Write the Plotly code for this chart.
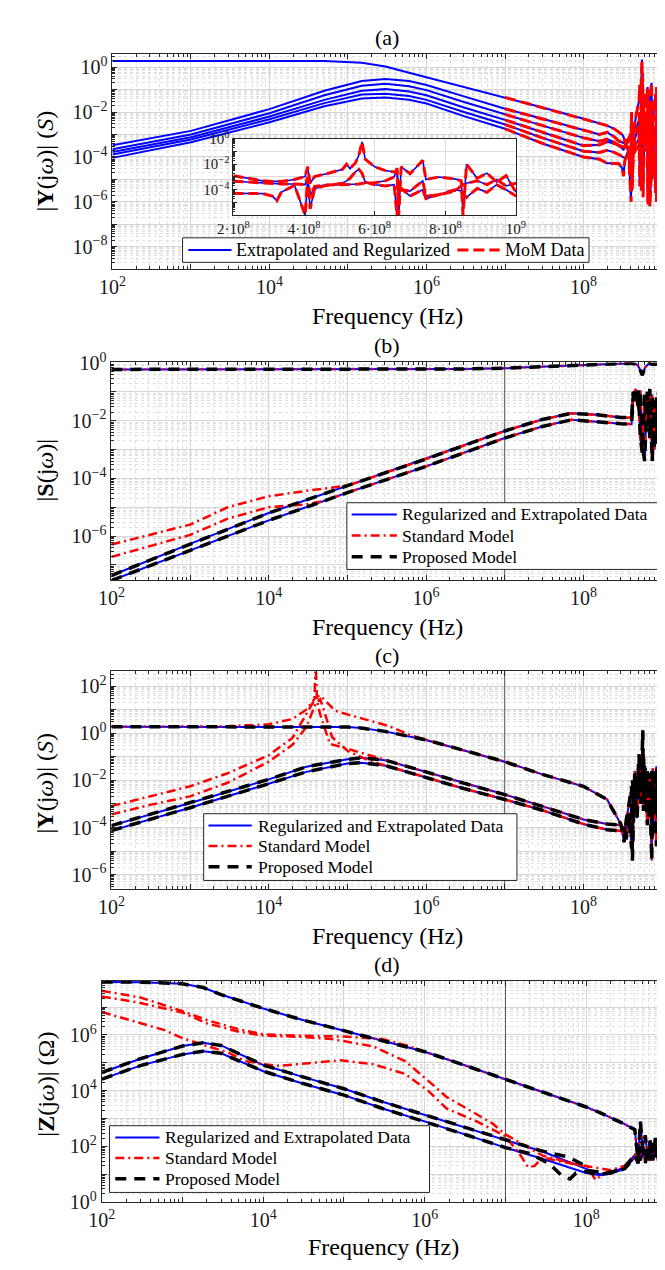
import plotly.graph_objects as go

W, H = 665, 1270
FONT = "Liberation Serif, Times New Roman, serif"
BLUE, RED, BLACK = "#0000FF", "#FF0000", "#000000"
AXC = "#262626"

# ---------------- (a) |Y(jw)| : extrapolated/regularized data and MoM data ----------------
freq_a = [1e2, 1e3, 1e4, 5e4, 1.5e5, 3e5, 6e5, 1e6, 3e6, 1e7, 3e7, 1e8, 1.6e8,
          2.0e8, 2.46e8, 2.83e8, 3.1e8, 3.23e8, 3.35e8, 3.73e8, 4.03e8, 4.1e8, 4.17e8,
          4.3e8, 4.64e8, 5.09e8, 5.2e8, 5.3e8, 5.45e8, 5.55e8, 5.64e8, 5.73e8, 6.0e8,
          6.3e8, 6.55e8, 6.63e8, 6.68e8, 6.75e8, 7.0e8, 7.36e8, 7.45e8, 7.81e8, 8.27e8,
          8.45e8, 8.5e8, 8.6e8, 8.9e8, 9.18e8, 9.45e8, 9.72e8, 1.0e9]
ya_1 = [1.9, 1.9, 1.9, 1.86, 1.58, 1.07, 0.56, 0.35, 0.126, 0.045, 0.016, 5.0e-3, 3.2e-3,
        2.5e-3, 1.8e-3, 1.26e-3, 1.0e-3, 7.9e-4, 5.0e-4, 1.6e-4, 2.5e-5, 3.2e-3, 6.3e-6,
        1.0e-3, 6.3e-3, 3.2e-2, 0.16, 2.5e-2, 0.32, 2.2, 0.1, 3.2e-3, 6.3e-2,
        1.6e-2, 0.13, 3.2e-5, 3.2e-2, 1.6e-3, 5.0e-2, 0.2, 3.2e-4, 1.3e-2, 6.3e-2,
        3.2e-3, 0.13, 1.0e-3, 0.1, 1.0e-2, 4.0e-2, 2.5e-3, 1.6e-2]
ya_2 = [3.3e-4, 1.45e-3, 1.35e-2, 8.9e-2, 0.24, 0.3, 0.24, 0.16, 5.0e-2, 1.4e-2, 5.0e-3, 1.6e-3, 1.0e-3,
        1.26e-3, 7.9e-4, 5.0e-4, 4.5e-4, 4.2e-4, 4.5e-4, 6.3e-4, 1.1e-3, 6.3e-3, 3.2e-4,
        1.1e-3, 1.8e-3, 4.0e-3, 1.0e-2, 4.5e-3, 1.26e-2, 5.0e-2, 0.56, 2.5e-2, 6.3e-3,
        3.2e-3, 2.5e-3, 2.8e-3, 1.0e-6, 6.3e-3, 1.8e-3, 2.0e-2, 6.3e-4, 1.0e-3, 7.1e-4,
        5.0e-4, 1.0e-6, 1.0e-2, 7.9e-4, 2.0e-3, 4.0e-4, 1.26e-3, 6.3e-5]
ya_3 = [2.2e-4, 1.0e-3, 8.9e-3, 5.6e-2, 0.15, 0.18, 0.14, 9.5e-2, 2.8e-2, 7.9e-3, 2.5e-3, 7.1e-4, 5.0e-4,
        6.3e-4, 4.5e-4, 3.2e-4, 2.5e-4, 2.0e-4, 3.2e-4, 5.0e-4, 7.9e-4, 1.0e-2, 1.6e-5,
        4.0e-4, 1.0e-3, 2.5e-3, 5.0e-6, 6.3e-3, 6.3e-2, 1.6e-3, 3.2e-2, 1.6e-6, 2.5e-3,
        5.0e-4, 6.3e-3, 7.9e-7, 1.6e-3, 2.5e-4, 1.26e-3, 1.0e-2, 1.0e-5, 5.0e-4, 2.5e-3,
        1.0e-4, 5.0e-3, 4.0e-5, 1.0e-3, 5.0e-8, 1.6e-3, 2.5e-5, 6.3e-4]
ya_4 = [1.66e-4, 7.6e-4, 6.3e-3, 3.5e-2, 8.9e-2, 0.105, 8.3e-2, 5.6e-2, 1.6e-2, 4.5e-3, 1.26e-3, 3.2e-4, 3.5e-4,
        4.7e-4, 4.0e-4, 3.2e-4, 2.95e-4, 2.8e-4, 2.8e-4, 2.8e-4, 2.5e-4, 1.0e-3, 3.2e-5,
        1.8e-4, 2.4e-4, 2.5e-4, 2.5e-4, 2.6e-4, 2.75e-4, 2.8e-4, 3.2e-4, 3.2e-4, 3.5e-4,
        5.0e-4, 1.0e-3, 5.0e-3, 6.3e-5, 1.0e-4, 7.9e-5, 5.0e-4, 3.2e-5, 4.0e-5, 7.9e-5,
        2.0e-4, 2.5e-4, 3.2e-4, 5.0e-4, 2.5e-4, 6.3e-4, 2.0e-4, 3.2e-4]
ya_5 = [1.3e-4, 6.0e-4, 4.8e-3, 2.5e-2, 6.0e-2, 6.6e-2, 5.2e-2, 3.5e-2, 1.0e-2, 2.8e-3, 7.1e-4, 1.8e-4, 1.6e-4,
        2.0e-4, 1.6e-4, 1.26e-4, 1.1e-4, 1.0e-4, 8.9e-5, 1.26e-4, 2.5e-4, 1.26e-5, 1.0e-3,
        2.0e-4, 4.0e-4, 6.3e-4, 3.2e-3, 2.5e-4, 3.2e-6, 2.5e-3, 1.6e-2, 5.0e-4, 1.6e-3,
        1.0e-2, 2.5e-4, 6.3e-3, 1.0e-5, 1.0e-3, 6.3e-7, 3.2e-5, 4.0e-3, 1.6e-4, 2.5e-6,
        1.26e-3, 2.5e-4, 7.9e-3, 1.0e-6, 5.0e-4, 6.3e-6, 2.0e-3, 1.6e-7]
ya_6 = [9.1e-5, 4.5e-4, 3.5e-3, 1.8e-2, 4.0e-2, 4.5e-2, 3.5e-2, 2.4e-2, 6.6e-3, 1.8e-3, 4.0e-4, 1.0e-4, 7.9e-5,
        5.2e-5, 5.2e-5, 5.0e-5, 3.2e-5, 1.4e-5, 6.3e-5, 2.2e-4, 1.0e-6, 7.9e-4, 3.2e-6,
        1.26e-4, 2.2e-4, 3.2e-4, 5.0e-4, 7.9e-4, 2.5e-3, 4.0e-3, 2.0e-3, 4.0e-4, 2.5e-4,
        2.0e-4, 2.5e-4, 1.0e-6, 2.0e-4, 1.26e-4, 3.2e-5, 1.0e-4, 2.0e-5, 4.0e-5, 1.0e-4,
        7.9e-5, 5.0e-5, 2.5e-5, 1.26e-4, 6.3e-5, 2.5e-4, 1.0e-4, 3.2e-5]
MOM_START = 9      # MoM data available from 1e7 Hz
INSET_START = 13   # inset shows 2e8 .. 1e9 Hz
inset_curves = [ya_2, ya_4, ya_6]

# ---------------- (b) |S(jw)| ----------------
freq_b = [1e2, 1e3, 1e4, 1e5, 1e6, 1e7, 3e7, 7e7, 1.5e8, 3e8, 4.1e8, 4.3e8, 4.6e8, 5.0e8,
          5.3e8, 5.6e8, 6.0e8, 6.5e8, 7.0e8, 7.5e8, 8.0e8, 8.5e8, 9.0e8, 9.5e8, 1e9]
sb_21a = [4.3e-8, 5.4e-7, 6.3e-6, 5.6e-5, 4.7e-4, 4.4e-3, 1.1e-2, 1.8e-2, 1.6e-2, 1.3e-2, 1.26e-2,
          0.1, 5.0e-2, 0.11, 2.5e-3, 7.9e-4, 7.9e-2, 6.3e-3, 0.126, 4.0e-4, 5.0e-2, 1.6e-3, 0.1, 1.0e-2, 5.0e-2]
sb_21b = [2.9e-8, 3.2e-7, 3.5e-6, 3.2e-5, 2.6e-4, 2.5e-3, 6.3e-3, 1.07e-2, 8.9e-3, 7.9e-3, 7.6e-3,
          6.3e-2, 0.126, 2.5e-2, 0.11, 1.6e-3, 4.0e-4, 0.1, 2.5e-3, 7.9e-2, 1.0e-3, 6.3e-2, 4.0e-3, 3.2e-2, 6.3e-3]
freq_b11 = [1e2, 1e5, 1e6, 3e6, 1e7, 3e7, 5e7, 1e8, 2e8, 4e8, 4.8e8, 5.2e8, 5.6e8, 6.1e8, 6.8e8, 8e8, 9e8, 1e9]
sb_11 = [0.6, 0.6, 0.6, 0.62, 0.66, 0.74, 0.79, 0.87, 0.95, 0.98, 0.89, 0.63, 0.38, 0.71, 0.95, 0.89, 0.95, 0.93]
fb_std_lo_a = [1e2, 3e2, 1e3, 3e3, 1e4, 3e4]
sb_std_lo_a = [5.1e-7, 1.1e-6, 2.5e-6, 1.0e-5, 2.4e-5, 3.7e-5]
fb_std_lo_b = [1e2, 3e2, 1e3, 3e3, 1e4, 3e4, 5e4]
sb_std_lo_b = [1.9e-7, 4.5e-7, 1.1e-6, 4.0e-6, 1.0e-5, 1.26e-5, 1.66e-5]
B_JOIN = 3  # standard model joins data from 1e5 Hz

# ---------------- (c) |Y(jw)| models ----------------
freq_c = [1e2, 1e3, 1e4, 3e4, 1e5, 1.5e5, 3e5, 1e6, 3e6, 1e7, 3e7, 1e8, 2e8, 2.6e8, 3e8,
          3.3e8, 3.5e8, 3.8e8, 4.1e8, 4.2e8, 4.5e8, 4.8e8, 5.1e8, 5.4e8, 5.7e8, 5.8e8,
          6.1e8, 6.5e8, 6.8e8, 7.1e8, 7.4e8, 7.6e8, 8.0e8, 8.5e8, 8.9e8, 9.4e8, 1e9]
yc_11 = [1.9, 1.9, 1.9, 1.9, 1.82, 1.66, 1.2, 0.52, 0.19, 6.2e-2, 1.8e-2, 5.6e-3, 1.55e-3, 3.2e-4, 1.4e-4,
         2.4e-5, 2.0e-4, 1.0e-3, 5.6e-3, 4.0e-6, 2.5e-2, 2.5e-3, 0.126, 4.0e-3, 1.32, 5.0e-4,
         4.0e-2, 6.3e-3, 2.0e-2, 6.3e-4, 4.0e-6, 3.2e-2, 5.0e-3, 4.0e-2, 6.3e-5, 1.0e-2, 3.2e-4]
yc_21a = [1.2e-4, 1.1e-3, 1.1e-2, 3.8e-2, 7.8e-2, 9.1e-2, 7.2e-2, 2.3e-2, 7.6e-3, 2.5e-3, 8.1e-4, 2.2e-4, 1.4e-4, 1.26e-4, 1.26e-4,
          1.0e-4, 5.0e-5, 4.0e-4, 1.26e-5, 1.0e-2, 6.3e-4, 1.6e-2, 1.6e-3, 6.3e-2, 1.0e-2, 0.126,
          1.0e-3, 2.5e-2, 2.5e-4, 1.26e-2, 2.5e-3, 4.0e-5, 1.6e-2, 5.0e-4, 6.3e-3, 1.26e-6, 1.6e-3]
yc_21b = [7.4e-5, 6.9e-4, 7.2e-3, 2.3e-2, 5.2e-2, 5.6e-2, 4.3e-2, 1.35e-2, 4.5e-3, 1.55e-3, 5.4e-4, 1.4e-4, 8.1e-5, 7.4e-5, 7.1e-5,
          5.6e-5, 3.2e-5, 1.6e-4, 6.3e-4, 6.3e-5, 4.0e-3, 2.5e-4, 1.0e-2, 1.0e-3, 2.5e-2, 3.2e-3,
          1.26e-2, 1.26e-4, 5.0e-3, 1.6e-3, 2.5e-2, 1.0e-3, 2.5e-3, 1.6e-5, 1.26e-2, 7.9e-4, 1.0e-4]
fc_std_lo_11 = [1e2, 1e3, 3e3, 1e4, 2e4, 3e4, 4e4, 4.5e4, 5e4, 7e4, 1e5, 2e5, 3.4e5, 6e5]
yc_std_lo_11 = [1.9, 1.9, 2.0, 2.4, 4.0, 10, 35, 40, 28, 8.9, 6.3, 3.2, 2.0, 0.89]
fc_std_lo_a = [1e2, 3e2, 1e3, 3e3, 1e4, 2e4, 3.2e4, 3.8e4, 3.95e4, 4.1e4, 4.5e4, 6e4, 1e5, 2e5]
yc_std_lo_a = [8.1e-4, 2.0e-3, 5.6e-3, 2.0e-2, 0.117, 0.63, 8.9, 25, 1000, 25, 6.3, 0.35, 0.22, 0.11]
fc_std_lo_b = [1e2, 3e2, 1e3, 3e3, 1e4, 2e4, 3e4, 4e4, 4.5e4, 5e4, 6.4e4, 1e5, 2e5]
yc_std_lo_b = [3.6e-4, 8.9e-4, 2.1e-3, 7.9e-3, 6.2e-2, 0.32, 1.78, 20, 28, 10, 0.68, 0.18, 6.3e-2]
C_JOIN_11, C_JOIN_21 = 7, 6

# ---------------- (d) |Z(jw)| models ----------------
freq_d = [1e2, 3e2, 1e3, 1.8e3, 3e3, 1e4, 3e4, 1e5, 3e5, 1e6, 3e6, 1e7, 3e7, 1e8, 1.5e8, 2e8, 3e8, 4e8,
          4.4e8, 4.7e8, 5e8, 5.4e8, 5.8e8, 6.2e8, 6.7e8, 7.2e8, 7.7e8, 8.3e8, 8.9e8, 9.5e8, 1e9]
zd_11 = [7.9e7, 7.8e7, 6.8e7, 5.0e7, 2.8e7, 8.9e6, 3.5e6, 1.4e6, 6.0e5, 2.5e5, 8.5e4, 2.6e4, 8.9e3, 2.6e3, 1.6e3, 1.1e3, 630, 400,
         32, 790, 79, 250, 40, 160, 32, 200, 40, 400, 50, 2500, 160]
zd_21a = [4.5e4, 1.4e5, 4.0e5, 5.2e5, 4.2e5, 8.3e4, 3.2e4, 1.17e4, 4.0e3, 1.35e3, 500, 180, 63, 15.8, 10, 11.2, 18, 50,
          25, 100, 40, 79, 32, 160, 50, 100, 32, 250, 63, 316, 50]
zd_21b = [2.6e4, 7.9e4, 2.0e5, 2.6e5, 2.2e5, 5.0e4, 1.86e4, 6.9e3, 2.3e3, 794, 282, 91, 35, 11.2, 9.3, 10.5, 15.8, 40,
          40, 32, 100, 25, 79, 32, 126, 40, 158, 50, 400, 79, 250]
fd_prop_mid_a = [2.6e7, 3.8e7, 6e7, 8.7e7, 1.05e8, 1.8e8, 2.5e8, 3e8]
zd_prop_mid_a = [74, 56, 42, 24, 13.8, 11.2, 14.1, 18]
fd_prop_mid_b = [2e7, 3.5e7, 5e7, 6.3e7, 7.5e7, 1e8, 1.3e8, 2e8, 3e8]
zd_prop_mid_b = [56, 24, 8.9, 6.8, 11.2, 12.6, 10, 11.2, 15.8]
fd_std_lo_11 = [1e2, 3e2, 1e3, 2e3, 5e3, 1e4, 3e4, 1e5, 3e5, 6e5]
zd_std_lo_11 = [3.8e7, 2.2e7, 7.1e6, 3.4e6, 1.58e6, 1.05e6, 9.3e5, 8.7e5, 7.1e5, 4.2e5]
fd_std_lo_a = [1e2, 3e2, 1e3, 2e3, 5e3, 1e4, 3e4, 7e4, 2.3e5, 5.7e5, 1.1e6, 1.86e6, 6.8e6, 1e7,
               2.9e7, 1.05e8, 1.3e8, 1.6e8, 2e8, 3e8]
zd_std_lo_a = [2.4e7, 1.4e7, 6.3e6, 2.6e6, 1.3e6, 9.5e5, 8.5e5, 7.1e5, 3.9e5, 1.15e5, 2.3e4, 6.0e3, 690, 270,
               47, 18, 6.3, 10, 13.2, 20]
fd_std_lo_b = [1e2, 6e2, 1e3, 2e3, 3.7e3, 6e3, 1e4, 1.6e4, 3.7e4, 9e4, 2.3e5, 5.7e5, 1.1e6, 1.86e6, 4.4e6,
               1e7, 1.55e7, 1.9e7, 2.3e7, 2.9e7, 5e7, 1e8, 1.5e8, 2e8, 3e8]
zd_std_lo_b = [6.6e6, 1.48e6, 7.6e5, 3.9e5, 2.3e5, 1.15e5, 8.9e4, 7.8e4, 1.0e5, 1.23e5, 8.9e4, 4.0e4, 1.0e4, 2.3e3, 790,
               234, 47, 18, 20, 41, 28, 20, 15.8, 14.1, 20]
D_PROP_CUT, D_HF, D_STD11_JOIN = 12, 17, 9

# ---------------- ticks ----------------
x_tickvals = [1e2, 1e3, 1e4, 1e5, 1e6, 1e7, 1e8, 1e9]
x_ticktext = ["10<sup>2</sup>", " ", "10<sup>4</sup>", " ", "10<sup>6</sup>", " ", "10<sup>8</sup>", " "]
ya_tickvals = [1e-9, 1e-8, 1e-7, 1e-6, 1e-5, 1e-4, 1e-3, 1e-2, 1e-1, 1e0]
ya_ticktext = [" ", "10<sup>−8</sup>", " ", "10<sup>−6</sup>", " ", "10<sup>−4</sup>", " ", "10<sup>−2</sup>", " ", "10<sup>0</sup>"]
yb_tickvals = [1e-7, 1e-6, 1e-5, 1e-4, 1e-3, 1e-2, 1e-1, 1e0]
yb_ticktext = [" ", "10<sup>−6</sup>", " ", "10<sup>−4</sup>", " ", "10<sup>−2</sup>", " ", "10<sup>0</sup>"]
yc_tickvals = [1e-6, 1e-5, 1e-4, 1e-3, 1e-2, 1e-1, 1e0, 1e1, 1e2]
yc_ticktext = ["10<sup>−6</sup>", " ", "10<sup>−4</sup>", " ", "10<sup>−2</sup>", " ", "10<sup>0</sup>", " ", "10<sup>2</sup>"]
yd_tickvals = [1e0, 1e1, 1e2, 1e3, 1e4, 1e5, 1e6, 1e7]
yd_ticktext = ["10<sup>0</sup>", " ", "10<sup>2</sup>", " ", "10<sup>4</sup>", " ", "10<sup>6</sup>", " "]
inset_xtickvals = [2e8, 4e8, 6e8, 8e8, 1e9]
inset_xticktext = ["2·10<sup>8</sup>", "4·10<sup>8</sup>", "6·10<sup>8</sup>", "8·10<sup>8</sup>", "10<sup>9</sup>"]
inset_ytickvals = [1e-6, 1e-5, 1e-4, 1e-3, 1e-2, 1e-1, 1e0]
inset_yticktext = [" ", " ", "10<sup>−4</sup>", " ", "10<sup>−2</sup>", " ", "10<sup>0</sup>"]

# legend labels
LBL_A = ["Extrapolated and Regularized", "MoM Data"]
LBL_M = ["Regularized and Extrapolated Data", "Standard Model", "Proposed Model"]

for arr in (ya_1, ya_2, ya_3, ya_4, ya_5, ya_6):
    assert len(arr) == len(freq_a)
for arr in (sb_21a, sb_21b):
    assert len(arr) == len(freq_b)
for arr in (yc_11, yc_21a, yc_21b):
    assert len(arr) == len(freq_c)
for arr in (zd_11, zd_21a, zd_21b):
    assert len(arr) == len(freq_d)

# ---------------- figure ----------------
def xdom(l, r):
    return [l / W, r / W]

def ydom(t, b):
    return [1 - b / H, 1 - t / H]

fig = go.Figure()

BLUE_LINE = dict(color=BLUE, width=2)
MOM_LINE = dict(color=RED, width=3, dash="11px,5px")
STD_LINE = dict(color=RED, width=2.5, dash="9px,4px,2px,4px")
PROP_LINE = dict(color=BLACK, width=3.5, dash="11px,8px")

def add(x, y, ax, line, name, **kw):
    fig.add_trace(go.Scatter(x=x, y=y, mode="lines", line=line, name=name,
                             xaxis="x" + ax, yaxis="y" + ax, showlegend=False,
                             hoverinfo="skip", **kw))

# (a)
for arr in (ya_1, ya_2, ya_3, ya_4, ya_5, ya_6):
    add(freq_a, arr, "", BLUE_LINE, LBL_A[0])
for arr in (ya_1, ya_2, ya_3, ya_4, ya_5, ya_6):
    add(freq_a[MOM_START:], arr[MOM_START:], "", MOM_LINE, LBL_A[1])

# opaque white panel behind the inset (its own invisible subplot, drawn above panel (a))
add([0, 1, 1, 0, 0], [0, 0, 1, 1, 0], "5", dict(width=0, color="white"), "",
    fill="toself", fillcolor="white")
# inset curves
for arr in inset_curves:
    add(freq_a[INSET_START:], arr[INSET_START:], "6", dict(color=BLUE, width=1.6), LBL_A[0])
for arr in inset_curves:
    add(freq_a[INSET_START:], arr[INSET_START:], "6", dict(color=RED, width=3, dash="10px,5px"), LBL_A[1])

# vertical reference line at 10 MHz in (b), (c), (d)
for ax in ("2", "3", "4"):
    add([1e7, 1e7], [1e-12, 1e12], ax, dict(color="#555555", width=1), "")

# (b)
b_data = [(freq_b11, sb_11), (freq_b, sb_21a), (freq_b, sb_21b)]
b_std = [(freq_b11, sb_11),
         (fb_std_lo_a + freq_b[B_JOIN:], sb_std_lo_a + sb_21a[B_JOIN:]),
         (fb_std_lo_b + freq_b[B_JOIN:], sb_std_lo_b + sb_21b[B_JOIN:])]
# (c)
c_data = [(freq_c, yc_11), (freq_c, yc_21a), (freq_c, yc_21b)]
c_std = [(fc_std_lo_11 + freq_c[C_JOIN_11:], yc_std_lo_11 + yc_11[C_JOIN_11:]),
         (fc_std_lo_a + freq_c[C_JOIN_21:], yc_std_lo_a + yc_21a[C_JOIN_21:]),
         (fc_std_lo_b + freq_c[C_JOIN_21:], yc_std_lo_b + yc_21b[C_JOIN_21:])]
# (d)
d_data = [(freq_d, zd_11), (freq_d, zd_21a), (freq_d, zd_21b)]
d_std = [(fd_std_lo_11 + freq_d[D_STD11_JOIN:], zd_std_lo_11 + zd_11[D_STD11_JOIN:]),
         (fd_std_lo_a + freq_d[D_HF:], zd_std_lo_a + zd_21a[D_HF:]),
         (fd_std_lo_b + freq_d[D_HF:], zd_std_lo_b + zd_21b[D_HF:])]
d_prop = [(freq_d, zd_11),
          (freq_d[:D_PROP_CUT] + fd_prop_mid_a + freq_d[D_HF:], zd_21a[:D_PROP_CUT] + zd_prop_mid_a + zd_21a[D_HF:]),
          (freq_d[:D_PROP_CUT] + fd_prop_mid_b + freq_d[D_HF:], zd_21b[:D_PROP_CUT] + zd_prop_mid_b + zd_21b[D_HF:])]

for ax, dat, std, prop in (("2", b_data, b_std, b_data), ("3", c_data, c_std, c_data), ("4", d_data, d_std, d_prop)):
    for fx, fy in dat:
        add(fx, fy, ax, BLUE_LINE, LBL_M[0])
    for fx, fy in std:
        add(fx, fy, ax, STD_LINE, LBL_M[1])
    for fx, fy in prop:
        add(fx, fy, ax, PROP_LINE, LBL_M[2])

# ---------------- axes ----------------
TICKFONT = dict(family=FONT, size=20, color="#1a1a1a")
MINOR = dict(ticks="inside", ticklen=3, tickcolor=AXC, showgrid=True, gridcolor="#e0e0e0",
             griddash="dot", gridwidth=1, dtick="D1")

def logaxis(dom, rng, tv, tt, anchor):
    return dict(type="log", domain=dom, range=rng, tickmode="array", tickvals=tv, ticktext=tt,
                anchor=anchor, showline=True, linecolor=AXC, linewidth=1, mirror="allticks",
                ticks="inside", ticklen=5, tickcolor=AXC, showgrid=True, gridcolor="#d6d6d6",
                gridwidth=1, zeroline=False, tickfont=TICKFONT, fixedrange=True, minor=MINOR)

PA = (92, 664, 34, 253)
PB = (91, 664, 348, 570)
PC = (91, 664, 663, 885)
PD = (81, 664, 978, 1204)
PI = (218, 512, 120, 198)

INSET_FONT = dict(family=FONT, size=15, color="#1a1a1a")
fig.update_layout(
    xaxis=logaxis(xdom(PA[0], PA[1]), [2, 9], x_tickvals, x_ticktext, "y"),
    yaxis=logaxis(ydom(PA[2], PA[3]), [-9.0, 0.57], ya_tickvals, ya_ticktext, "x"),
    xaxis2=logaxis(xdom(PB[0], PB[1]), [2, 9], x_tickvals, x_ticktext, "y2"),
    yaxis2=logaxis(ydom(PB[2], PB[3]), [-7.53, 0.02], yb_tickvals, yb_ticktext, "x2"),
    xaxis3=logaxis(xdom(PC[0], PC[1]), [2, 9], x_tickvals, x_ticktext, "y3"),
    yaxis3=logaxis(ydom(PC[2], PC[3]), [-6.62, 2.62], yc_tickvals, yc_ticktext, "x3"),
    xaxis4=logaxis(xdom(PD[0], PD[1]), [2, 8.94], x_tickvals, x_ticktext, "y4"),
    yaxis4=logaxis(ydom(PD[2], PD[3]), [0, 7.95], yd_tickvals, yd_ticktext, "x4"),
    xaxis5=dict(domain=xdom(PI[0], PI[1]), range=[0, 1], anchor="y5", visible=False, fixedrange=True),
    yaxis5=dict(domain=ydom(PI[2], PI[3]), range=[0, 1], anchor="x5", visible=False, fixedrange=True),
    xaxis6=dict(type="linear", domain=xdom(PI[0], PI[1]), range=[2e8, 1e9], anchor="y6",
                tickmode="array", tickvals=inset_xtickvals, ticktext=inset_xticktext,
                showline=True, linecolor=AXC, linewidth=1, mirror=True, ticks="inside",
                ticklen=4, tickcolor=AXC, showgrid=True, gridcolor="#dddddd", zeroline=False,
                tickfont=INSET_FONT, fixedrange=True),
    yaxis6=dict(type="log", domain=ydom(PI[2], PI[3]), range=[-6, 0], anchor="x6",
                tickmode="array", tickvals=inset_ytickvals, ticktext=inset_yticktext,
                showline=True, linecolor=AXC, linewidth=1, mirror=True, ticks="inside",
                ticklen=4, tickcolor=AXC, showgrid=True, gridcolor="#dddddd", zeroline=False,
                minor=dict(ticks="inside", ticklen=2, tickcolor=AXC, dtick="D1", showgrid=False),
                tickfont=INSET_FONT, fixedrange=True),
)

# ---------------- legends (boxes drawn in pixel layout, MATLAB style) ----------------
shapes, ann = [], []

def px(x):
    return x / W

def py(y):
    return 1 - y / H

def legend_box(x0, y0, x1, y1):
    shapes.append(dict(type="rect", xref="paper", yref="paper", x0=px(x0), x1=px(x1),
                       y0=py(y1), y1=py(y0), fillcolor="white",
                       line=dict(color=AXC, width=1), layer="above"))

def legend_item(xs0, xs1, y, line, label, xt, size):
    shapes.append(dict(type="line", xref="paper", yref="paper", x0=px(xs0), x1=px(xs1),
                       y0=py(y), y1=py(y), line=line, layer="above"))
    ann.append(dict(text=label, x=px(xt), y=py(y), xref="paper", yref="paper", showarrow=False,
                    xanchor="left", yanchor="middle", font=dict(family=FONT, size=size, color="black")))

# (a): horizontal legend
legend_box(165, 221, 588, 246)
legend_item(171, 216, 233.5, BLUE_LINE, LBL_A[0], 219, 18)
legend_item(451, 495, 233.5, MOM_LINE, LBL_A[1], 499, 18)

MODEL_STYLES = [BLUE_LINE, STD_LINE, PROP_LINE]
for (bx0, by0, bx1, by1), rows, (sx0, sx1, tx) in (
        ((336, 491, 663, 559), (503, 524.5, 546), (341, 388, 391)),
        ((187, 808, 513, 876), (820, 841, 862), (192, 237, 241)),
        ((89, 1126, 422, 1194), (1138, 1159, 1180), (95, 141, 145))):
    legend_box(bx0, by0, bx1, by1)
    for yrow, style, lbl in zip(rows, MODEL_STYLES, LBL_M):
        legend_item(sx0, sx1, yrow, style, lbl, tx, 17.5)

TFONT = dict(family=FONT, size=22, color="black")
XFONT = dict(family=FONT, size=24, color="black")
for txt, yc in (("(a)", 17), ("(b)", 331), ("(c)", 647), ("(d)", 962)):
    ann.append(dict(text=txt, x=378 / W, y=1 - yc / H, xref="paper", yref="paper",
                    showarrow=False, xanchor="center", yanchor="middle", font=TFONT))
for xc, yc in ((378, 301), (378, 618), (378, 933), (374, 1250)):
    ann.append(dict(text="Frequency (Hz)", x=xc / W, y=1 - yc / H, xref="paper", yref="paper",
                    showarrow=False, xanchor="center", yanchor="middle", font=XFONT))
for txt, yc in (("|<b>Y</b>(j<i>ω</i>)| (<i>S</i>)", 143),
                ("|<b>S</b>(j<i>ω</i>)|", 458),
                ("|<b>Y</b>(j<i>ω</i>)| (<i>S</i>)", 777),
                ("|<b>Z</b>(j<i>ω</i>)| (Ω)", 1084)):
    ann.append(dict(text=txt, x=22 / W, y=1 - yc / H, xref="paper", yref="paper", textangle=-90,
                    showarrow=False, xanchor="center", yanchor="middle", font=XFONT))

fig.update_layout(width=W, height=H, margin=dict(l=0, r=0, t=0, b=0),
                  paper_bgcolor="white", plot_bgcolor="white", annotations=ann, shapes=shapes,
                  showlegend=False, font=dict(family=FONT))

fig.write_html("out.html")
